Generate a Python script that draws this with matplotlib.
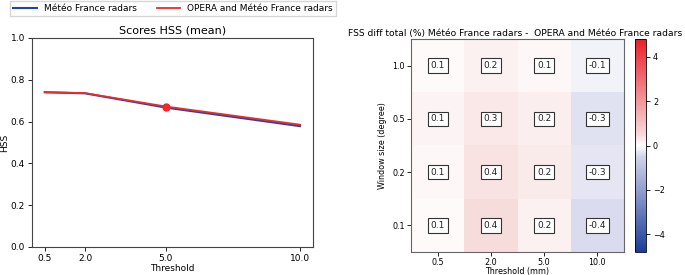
import numpy as np
import matplotlib
matplotlib.use("Agg")
import matplotlib.pyplot as plt
from matplotlib.colors import LinearSegmentedColormap

# ── data ─────────────────────────────────────────────
thresholds = [0.5, 2.0, 5.0, 10.0]
hss_mf = [0.740, 0.735, 0.667, 0.578]
hss_opera = [0.741, 0.736, 0.672, 0.585]
marker_threshold = 5.0
marker_hss = 0.672

window_sizes = ["1.0", "0.5", "0.2", "0.1"]
threshold_labels = ["0.5", "2.0", "5.0", "10.0"]
fss_diff = [
    [0.07, 0.17, 0.10, -0.12],
    [0.14, 0.28, 0.22, -0.32],
    [0.10, 0.36, 0.24, -0.30],
    [0.07, 0.44, 0.16, -0.38],
]
vlim = 4.8

plt.rcParams['font.family'] = 'DejaVu Sans'
fig = plt.figure(figsize=(6.85, 2.75), dpi=100)

# ── left: HSS lines ─────────────────────────────────
ax1 = fig.add_axes([0.0467, 0.102, 0.410, 0.760])
l1, = ax1.plot(thresholds, hss_mf, color='#1f45a8', lw=1.5)
l2, = ax1.plot(thresholds, hss_opera, color='#ee2a2a', lw=1.3)
ax1.plot([marker_threshold], [marker_hss], 'o', color='#ee2a2a', ms=5)
ax1.set_ylim(0, 1)
ax1.set_xticks(thresholds)
ax1.set_xticklabels(threshold_labels)
ax1.set_yticks([0, 0.2, 0.4, 0.6, 0.8, 1.0])
ax1.tick_params(labelsize=6.5, length=3, width=0.6, pad=2)
ax1.set_title('Scores HSS (mean)', fontsize=8, pad=3)
ax1.set_xlabel('Threshold', fontsize=6.5, labelpad=1)
ax1.set_ylabel('HSS', fontsize=6.5, labelpad=1)
for s in ax1.spines.values():
    s.set_linewidth(0.8)
    s.set_color('#444444')

fig.legend([l1, l2], ['Météo France radars', 'OPERA and Météo France radars'],
           loc='center', bbox_to_anchor=(0.2526, 0.969), ncol=2,
           fontsize=6.5, frameon=True, fancybox=False, edgecolor='#cccccc',
           handlelength=2.6, columnspacing=2.2, handletextpad=0.8, borderpad=0.35)

# ── right: FSS diff heatmap ─────────────────────────
cmap = LinearSegmentedColormap.from_list('fssdiff', [
    (0.0, '#1b3c98'),
    (0.45, '#d3d4eb'),
    (0.5, '#ffffff'),
    (0.55, '#f7d9d9'),
    (1.0, '#e8202a'),
])

ax2 = fig.add_axes([0.600, 0.0836, 0.311, 0.7745])
data = np.array(fss_diff)
im = ax2.imshow(data, cmap=cmap, vmin=-vlim, vmax=vlim, aspect='auto')
for i in range(data.shape[0]):
    for j in range(data.shape[1]):
        ax2.text(j, i, f'{data[i, j]:.1f}', ha='center', va='center', fontsize=6.5,
                 color='#222222',
                 bbox=dict(boxstyle='square,pad=0.3', facecolor='white',
                           edgecolor='#333333', linewidth=0.8))
ax2.set_xticks(range(len(threshold_labels)))
ax2.set_xticklabels(threshold_labels)
ax2.set_yticks(range(len(window_sizes)))
ax2.set_yticklabels(window_sizes)
ax2.tick_params(labelsize=5.8, length=3, width=0.6, pad=1.5)
ax2.set_xlabel('Threshold (mm)', fontsize=5.8, labelpad=-0.5)
ax2.set_ylabel('Window size (degree)', fontsize=5.8, labelpad=4)
ax2.set_title('FSS diff total (%) Météo France radars -  OPERA and Météo France radars',
              fontsize=6.6, pad=2, x=0.49)
for s in ax2.spines.values():
    s.set_linewidth(0.8)
    s.set_color('#666666')

cax = fig.add_axes([0.927, 0.0836, 0.016, 0.7745])
cb = fig.colorbar(im, cax=cax, ticks=[-4, -2, 0, 2, 4])
cb.ax.tick_params(labelsize=5.8, length=3, width=0.6, pad=2)
cb.outline.set_linewidth(0.6)

fig.savefig('out.png', dpi=100)
